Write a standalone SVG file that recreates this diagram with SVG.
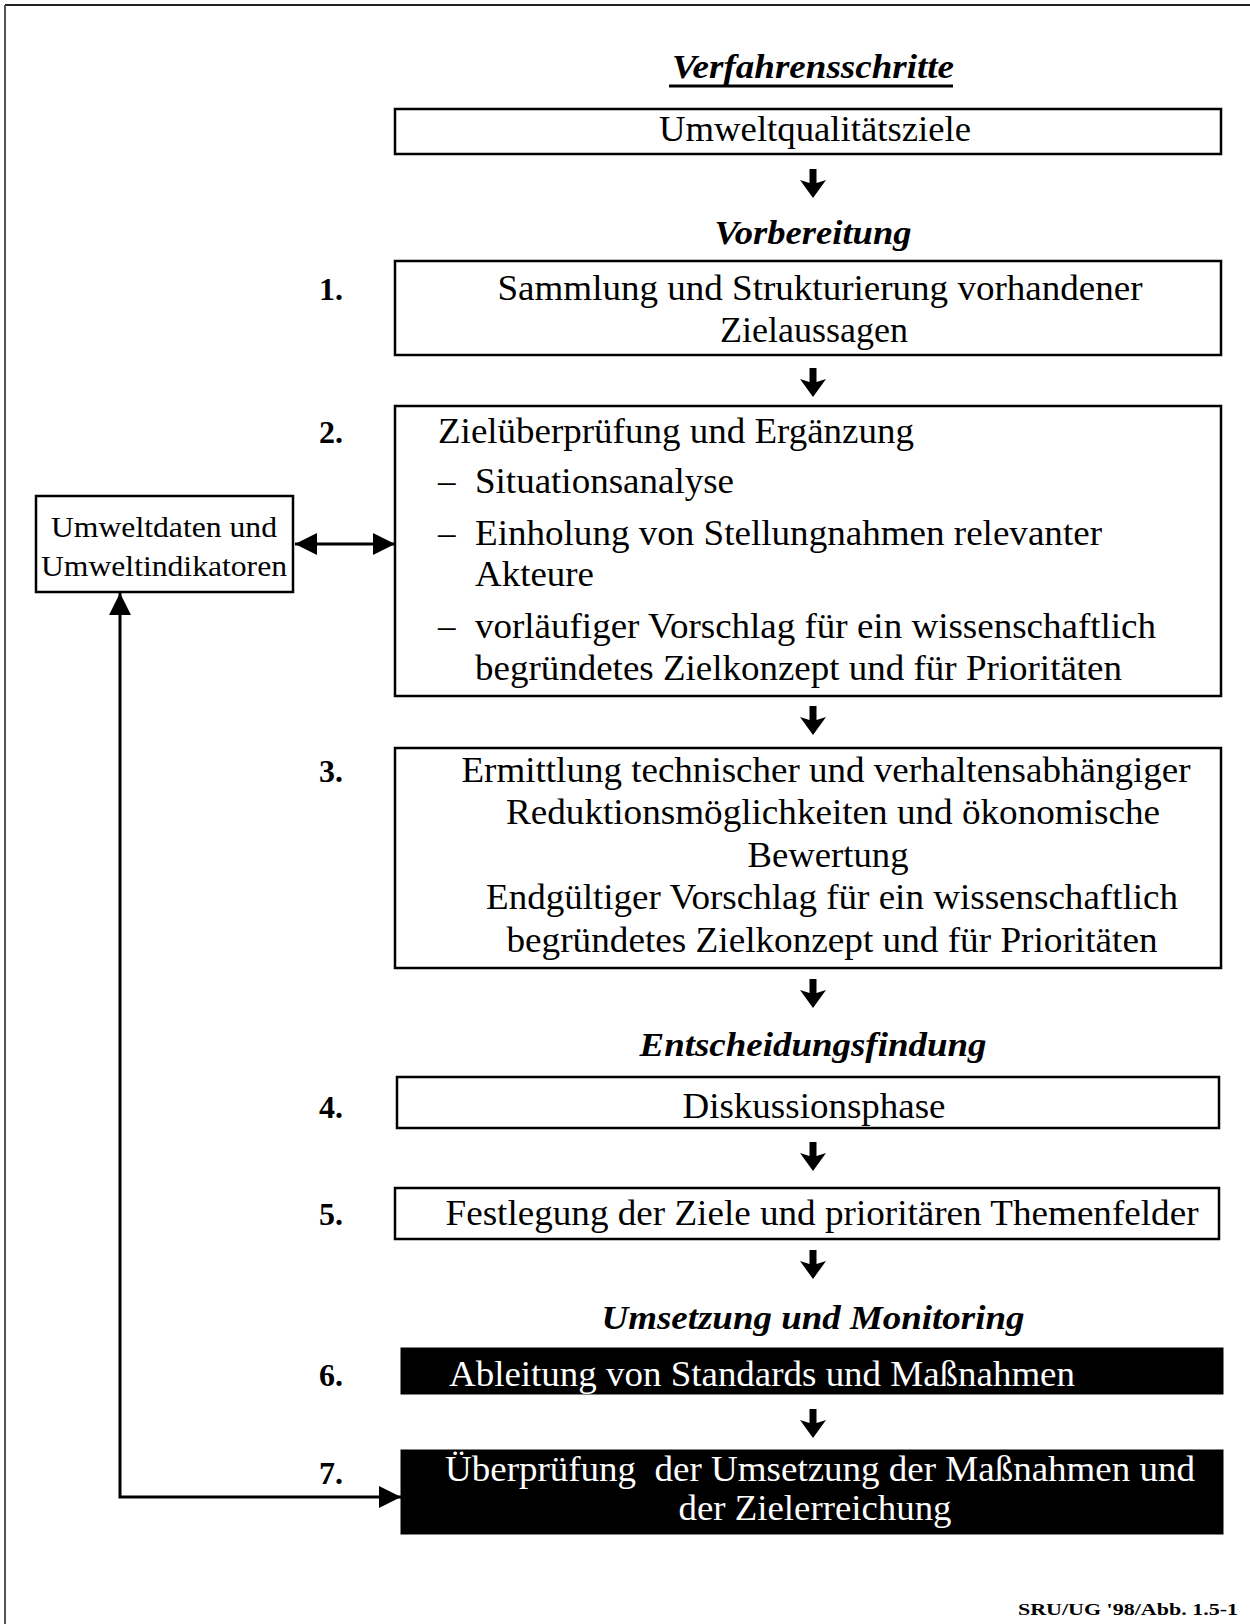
<svg xmlns="http://www.w3.org/2000/svg" width="1250" height="1624" viewBox="0 0 1250 1624">
<style>
text{font-family:"Liberation Serif","Times New Roman",serif;fill:#000}
.t{font-size:35px}
.c{text-anchor:middle}
.h{font-size:34px;font-weight:bold;font-style:italic;text-anchor:middle}
.n{font-size:32px;font-weight:bold}
.w{fill:#fff}
.box{fill:#fff;stroke:#000;stroke-width:2.5}
.blk{fill:#000;stroke:#000;stroke-width:1}
.ln{fill:none;stroke:#000;stroke-width:3}
</style>
<defs>
<marker id="ah" viewBox="0 0 22 22" refX="22" refY="11" markerWidth="22" markerHeight="22" markerUnits="userSpaceOnUse" orient="auto-start-reverse">
<path d="M0,0 L22,11 L0,22 Z" fill="#000"/>
</marker>
<path id="da" d="M-3.5,0 L3.5,0 L3.5,14 L13,11 L0,29 L-13,11 L-3.5,14 Z" fill="#000"/>
</defs>
<rect x="0" y="0" width="1250" height="1624" fill="#fff"/>
<g id="frame">
<line x1="5" y1="5" x2="1250" y2="5" stroke="#222" stroke-width="2"/>
<line x1="5" y1="5" x2="5" y2="1624" stroke="#555" stroke-width="2"/>
</g>
<g id="title">
<text class="h" x="813" y="78" textLength="282" lengthAdjust="spacingAndGlyphs">Verfahrensschritte</text>
<line x1="669" y1="86" x2="953" y2="86" stroke="#000" stroke-width="3"/>
</g>
<g id="node0">
<rect class="box" x="395" y="109" width="826" height="45"/>
<text class="t c" x="815" y="141" textLength="312" lengthAdjust="spacingAndGlyphs">Umweltqualitätsziele</text>
</g>
<g id="phase1"><text class="h" x="813" y="244" textLength="197" lengthAdjust="spacingAndGlyphs">Vorbereitung</text></g>
<g id="node1">
<text class="n" x="319" y="300">1.</text>
<rect class="box" x="395" y="261" width="826" height="94"/>
<text class="t c" x="820" y="300" textLength="645" lengthAdjust="spacingAndGlyphs">Sammlung und Strukturierung vorhandener</text>
<text class="t c" x="814" y="342" textLength="188" lengthAdjust="spacingAndGlyphs">Zielaussagen</text>
</g>
<g id="node2">
<text class="n" x="319" y="443">2.</text>
<rect class="box" x="395" y="406" width="826" height="290"/>
<text class="t" x="438" y="443" textLength="476" lengthAdjust="spacingAndGlyphs">Zielüberprüfung und Ergänzung</text>
<text class="t" x="438" y="493">–</text>
<text class="t" x="475" y="493" textLength="259" lengthAdjust="spacingAndGlyphs">Situationsanalyse</text>
<text class="t" x="438" y="545">–</text>
<text class="t" x="475" y="545" textLength="627" lengthAdjust="spacingAndGlyphs">Einholung von Stellungnahmen relevanter</text>
<text class="t" x="475" y="586" textLength="119" lengthAdjust="spacingAndGlyphs">Akteure</text>
<text class="t" x="438" y="638">–</text>
<text class="t" x="475" y="638" textLength="681" lengthAdjust="spacingAndGlyphs">vorläufiger Vorschlag für ein wissenschaftlich</text>
<text class="t" x="475" y="680" textLength="647" lengthAdjust="spacingAndGlyphs">begründetes Zielkonzept und für Prioritäten</text>
</g>
<g id="umweltdaten">
<rect class="box" x="36" y="496" width="257" height="96"/>
<text class="c" style="font-size:30px" x="164" y="537" textLength="226" lengthAdjust="spacingAndGlyphs">Umweltdaten und</text>
<text class="c" style="font-size:30px" x="164" y="576" textLength="246" lengthAdjust="spacingAndGlyphs">Umweltindikatoren</text>
</g>
<g id="node3">
<text class="n" x="319" y="782">3.</text>
<rect class="box" x="395" y="748" width="826" height="220"/>
<text class="t c" x="826" y="782" textLength="729" lengthAdjust="spacingAndGlyphs">Ermittlung technischer und verhaltensabhängiger</text>
<text class="t c" x="833" y="824" textLength="654" lengthAdjust="spacingAndGlyphs">Reduktionsmöglichkeiten und ökonomische</text>
<text class="t c" x="828" y="867" textLength="161" lengthAdjust="spacingAndGlyphs">Bewertung</text>
<text class="t c" x="832" y="909" textLength="692" lengthAdjust="spacingAndGlyphs">Endgültiger Vorschlag für ein wissenschaftlich</text>
<text class="t c" x="832" y="952" textLength="651" lengthAdjust="spacingAndGlyphs">begründetes Zielkonzept und für Prioritäten</text>
</g>
<g id="phase2"><text class="h" x="813" y="1056" textLength="347" lengthAdjust="spacingAndGlyphs">Entscheidungsfindung</text></g>
<g id="node4">
<text class="n" x="319" y="1118">4.</text>
<rect class="box" x="397" y="1077" width="822" height="51"/>
<text class="t c" x="814" y="1118" textLength="263" lengthAdjust="spacingAndGlyphs">Diskussionsphase</text>
</g>
<g id="node5">
<text class="n" x="319" y="1225">5.</text>
<rect class="box" x="395" y="1188" width="824" height="51"/>
<text class="t c" x="822" y="1225" textLength="753" lengthAdjust="spacingAndGlyphs">Festlegung der Ziele und prioritären Themenfelder</text>
</g>
<g id="phase3"><text class="h" x="813" y="1329" textLength="423" lengthAdjust="spacingAndGlyphs">Umsetzung und Monitoring</text></g>
<g id="node6">
<text class="n" x="319" y="1386">6.</text>
<rect class="blk" x="401" y="1348" width="822" height="46"/>
<text class="t w" x="449" y="1386" textLength="626" lengthAdjust="spacingAndGlyphs">Ableitung von Standards und Maßnahmen</text>
</g>
<g id="node7">
<text class="n" x="319" y="1484">7.</text>
<rect class="blk" x="401" y="1450" width="822" height="84"/>
<text class="t w c" xml:space="preserve" x="820" y="1481" textLength="750" lengthAdjust="spacingAndGlyphs">Überprüfung  der Umsetzung der Maßnahmen und</text>
<text class="t w c" x="815" y="1520" textLength="273" lengthAdjust="spacingAndGlyphs">der Zielerreichung</text>
</g>
<g id="connectors">
<use href="#da" x="813" y="169"/>
<use href="#da" x="813" y="368"/>
<use href="#da" x="813" y="706"/>
<use href="#da" x="813" y="979"/>
<use href="#da" x="813" y="1142"/>
<use href="#da" x="813" y="1250"/>
<use href="#da" x="813" y="1409"/>
<line class="ln" x1="295" y1="544" x2="395" y2="544" marker-start="url(#ah)" marker-end="url(#ah)"/>
<path class="ln" d="M120,593 L120,1497 L401,1497" marker-start="url(#ah)" marker-end="url(#ah)"/>
</g>
<g id="credit"><text x="1238" y="1615" style="font-size:17px;font-weight:bold;text-anchor:end" textLength="220" lengthAdjust="spacingAndGlyphs">SRU/UG '98/Abb. 1.5-1</text></g>
</svg>
